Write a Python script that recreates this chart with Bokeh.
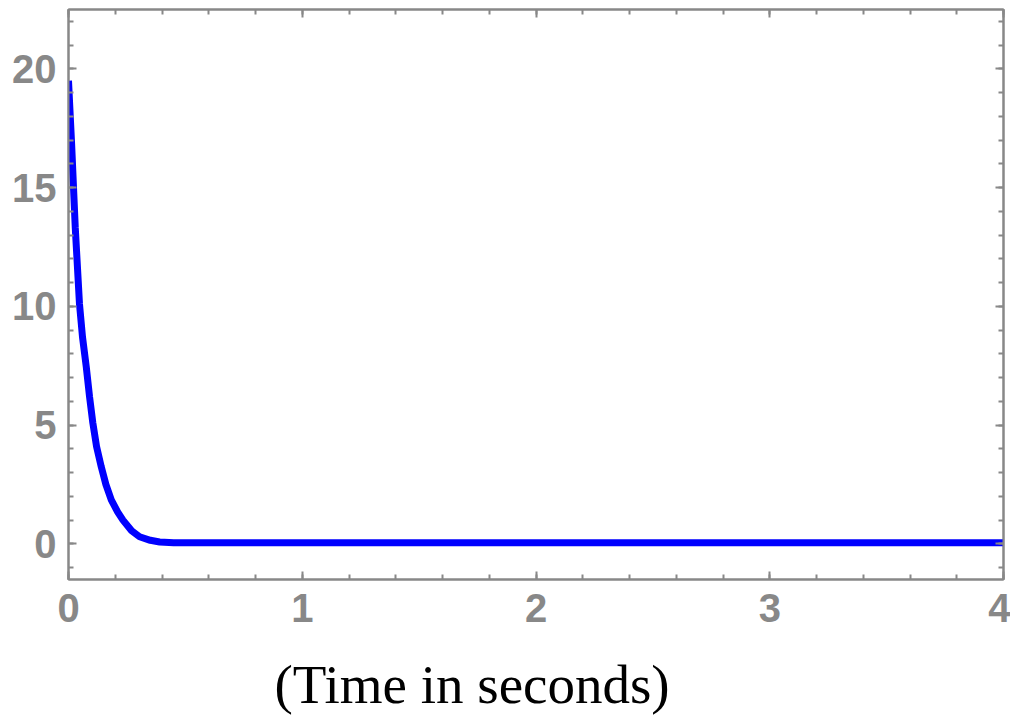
from bokeh.plotting import figure
from bokeh.models import LinearAxis, FixedTicker, Range1d, Title
from bokeh.embed import file_html
from bokeh.resources import INLINE

# Data
time_s = [0.0, 0.013, 0.029, 0.047, 0.06, 0.076, 0.09, 0.104, 0.12, 0.14, 0.16, 0.183,
          0.21, 0.233, 0.27, 0.304, 0.35, 0.39, 0.45, 0.6, 1.0, 1.5, 2.0, 2.5, 3.0, 3.5, 4.0]
response = [19.5, 16.9, 13.3, 10.1, 8.7, 7.45, 6.2, 5.1, 4.1, 3.25, 2.5, 1.85,
            1.35, 1.0, 0.55, 0.3, 0.15, 0.08, 0.05, 0.05, 0.05, 0.05, 0.05, 0.05, 0.05, 0.05, 0.05]

x_major = [0, 1, 2, 3, 4]
x_minor = [round(i * 0.2, 1) for i in range(0, 21)]
y_major = [0, 5, 10, 15, 20]
y_minor = list(range(-1, 23))
x_title = "(Time in seconds)"

GRAY = "#888888"

p = figure(width=1010, height=722, output_backend="svg", toolbar_location=None,
           x_range=Range1d(0, 4), y_range=Range1d(-1.5, 22.5),
           min_border_left=68, min_border_right=7, min_border_top=9, min_border_bottom=143)
p.xgrid.visible = False
p.ygrid.visible = False
p.outline_line_color = GRAY
p.outline_line_width = 2
p.background_fill_color = "white"
p.border_fill_color = "white"

p.line(time_s, response, line_color="#0000ff", line_width=7)

def style(ax, ticks, minors, show_labels):
    ax.ticker = FixedTicker(ticks=ticks, minor_ticks=minors)
    ax.axis_line_color = GRAY
    ax.axis_line_width = 2
    ax.major_tick_line_color = GRAY
    ax.minor_tick_line_color = GRAY
    ax.major_tick_line_width = 2
    ax.minor_tick_line_width = 2
    ax.major_tick_in = 8
    ax.major_tick_out = 0
    ax.minor_tick_in = 5
    ax.minor_tick_out = 0
    if show_labels:
        ax.major_label_text_font = "Liberation Sans"
        ax.major_label_text_font_style = "bold"
        ax.major_label_text_font_size = "40px"
        ax.major_label_text_color = GRAY
    else:
        ax.major_label_overrides = {tk: "" for tk in ticks}
        ax.major_label_text_font_size = "1px"
        ax.major_label_standoff = 0

style(p.xaxis[0], x_major, x_minor, True)
p.xaxis[0].major_label_standoff = 14
style(p.yaxis[0], y_major, y_minor, True)
p.yaxis[0].major_label_standoff = 12

top = LinearAxis()
style(top, x_major, x_minor, False)
p.add_layout(top, "above")
right = LinearAxis()
style(right, y_major, y_minor, False)
p.add_layout(right, "right")

# invisible spacer between the tick labels and the caption
spacer = LinearAxis()
style(spacer, x_major, x_minor, False)
spacer.axis_line_color = None
spacer.major_tick_line_color = None
spacer.minor_tick_line_color = None
spacer.major_tick_in = 0
spacer.minor_tick_in = 0
spacer.major_tick_out = 27
p.add_layout(spacer, "below")

t = Title(text=x_title, align="left", offset=206, text_font="Liberation Serif",
          text_font_size="55px", text_font_style="normal", text_color="black", standoff=0)
p.add_layout(t, "below")

open("out.html", "w").write(file_html(p, INLINE))
